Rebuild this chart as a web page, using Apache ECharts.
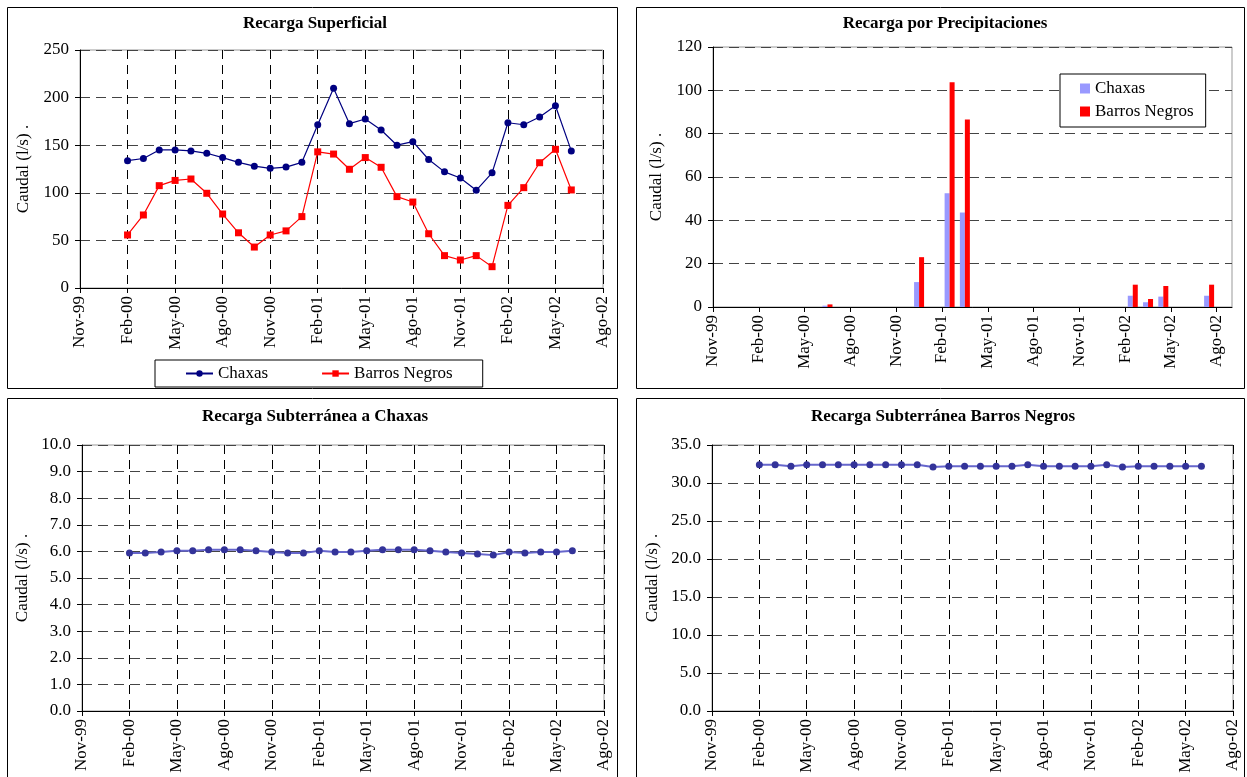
<!DOCTYPE html>
<html><head><meta charset="utf-8">
<script src="https://cdn.jsdelivr.net/npm/echarts@6/dist/echarts.min.js"></script>
<style>html,body{margin:0;padding:0;background:#fff}#c{width:1247px;height:777px}</style>
</head><body><div id="c"></div>
<script>
// ---- tick labels (every 3 months from Nov-99) ----
const tickLabels = ['Nov-99','Feb-00','May-00','Ago-00','Nov-00','Feb-01','May-01','Ago-01','Nov-01','Feb-02','May-02','Ago-02'];

// ---- monthly samples (line panels) ----
const months = ['2000-02','2000-03','2000-04','2000-05','2000-06','2000-07','2000-08','2000-09','2000-10','2000-11','2000-12',
  '2001-01','2001-02','2001-03','2001-04','2001-05','2001-06','2001-07','2001-08','2001-09','2001-10','2001-11','2001-12',
  '2002-01','2002-02','2002-03','2002-04','2002-05','2002-06'];
const supChaxas = [133.7,136,145,145,144,141.5,137,132,128,125.7,127,132,171.5,209.8,172.6,177.5,166,150,153.7,135,122,115.5,102.6,121,173.6,171.5,179.6,191.5,144];
const supBarros = [55.7,76.7,107.5,113,114.5,99.5,77.7,58,43,55.7,60,75,143,140.7,124.7,137,126.8,96,90.3,57,34,29.4,34,22.4,86.8,105.4,131.6,145.7,103];
const subChaxas = [5.94,5.94,5.98,6.02,6.02,6.06,6.06,6.06,6.02,5.98,5.94,5.94,6.02,5.98,5.98,6.02,6.06,6.06,6.06,6.02,5.98,5.94,5.90,5.86,5.98,5.94,5.98,5.98,6.02];
const subBarros = [32.4,32.4,32.2,32.4,32.4,32.4,32.4,32.4,32.4,32.4,32.4,32.1,32.2,32.2,32.2,32.2,32.2,32.4,32.2,32.2,32.2,32.2,32.4,32.1,32.2,32.2,32.2,32.2,32.2];

// ---- monthly precipitation recharge (bars) ----
const barMonths = ['2000-02','2000-03','2000-04','2000-05','2000-06','2000-07','2000-08','2000-09','2000-10','2000-11','2000-12',
  '2001-01','2001-02','2001-03','2001-04','2001-05','2001-06','2001-07','2001-08','2001-09','2001-10','2001-11','2001-12',
  '2002-01','2002-02','2002-03','2002-04','2002-05','2002-06','2002-07'];
const precChaxas = [0,0,0,0,0.6,0,0,0,0,0,11.5,0,52.5,43.6,0,0,0,0,0,0,0,0,0,0,5.2,2.2,4.8,0,0,5.2];
const precBarros = [0,0,0,0,1.2,0,0,0,0,0,23.0,0,103.7,86.5,0,0,0,0,0,0,0,0,0,0,10.3,3.7,9.7,0,0,10.3];

const FONT = 'Liberation Serif';
function mIdx(s){ const p = s.split('-').map(Number); return (p[0]-1999)*12 + (p[1]-11); }
const linePts = vals => months.map((m,i)=>[mIdx(m), vals[i]]);
const barPts = vals => barMonths.map((m,i)=>[mIdx(m)+0.5, vals[i]]);
const tickVals = tickLabels.map((_,i)=>i*3);

function xAxis(gi, max, split){
  return {type:'value', gridIndex:gi, min:0, max:max, interval:3,
    axisLine:{show:true, onZero:false, lineStyle:{color:'#000', width:1}},
    axisTick:{show:true, length:5, customValues:tickVals, lineStyle:{color:'#000'}},
    axisLabel:{rotate:90, fontFamily:FONT, fontSize:17, color:'#000', margin:8, customValues:tickVals,
      formatter:v=>tickLabels[Math.round(v/3)] || ''},
    splitLine:{show:split, lineStyle:{color:'#000', type:[9,6], width:1}}};
}
function yAxis(gi, max, interval, dec){
  return {type:'value', gridIndex:gi, min:0, max:max, interval:interval,
    name:'Caudal (l/s) .', nameLocation:'middle', nameGap:dec?51:48,
    nameTextStyle:{fontFamily:FONT, fontSize:17, color:'#000'},
    axisLine:{show:true, lineStyle:{color:'#000', width:1}},
    axisTick:{show:true, length:5, lineStyle:{color:'#000'}},
    axisLabel:{fontFamily:FONT, fontSize:17, color:'#000', margin:11,
      formatter:v=>dec ? v.toFixed(1) : String(v)},
    splitLine:{show:true, lineStyle:{color:'#444', type:[10,6], width:1}}};
}
const titleStyle = {fontFamily:FONT, fontSize:17, fontWeight:'bold', color:'#000'};
const gridBase = {show:true, borderColor:'#999', borderWidth:1, backgroundColor:'transparent', containLabel:false};

const chart = echarts.init(document.getElementById('c'), null, {renderer:'canvas'});
chart.setOption({
  animation:false,
  backgroundColor:'#fff',
  title:[
    {text:'Recarga Superficial', left:315, top:15, textAlign:'center', textStyle:titleStyle, padding:0},
    {text:'Recarga por Precipitaciones', left:945, top:15, textAlign:'center', textStyle:titleStyle, padding:0},
    {text:'Recarga Subterránea a Chaxas', left:315, top:408, textAlign:'center', textStyle:titleStyle, padding:0},
    {text:'Recarga Subterránea Barros Negros', left:943, top:408, textAlign:'center', textStyle:titleStyle, padding:0}
  ],
  graphic:[
    {type:'rect', shape:{x:7.5, y:7.5, width:610, height:381}, style:{fill:'none', stroke:'#000', lineWidth:1}},
    {type:'rect', shape:{x:636.5, y:7.5, width:608, height:381}, style:{fill:'none', stroke:'#000', lineWidth:1}},
    {type:'rect', shape:{x:7.5, y:398.5, width:610, height:400}, style:{fill:'none', stroke:'#000', lineWidth:1}},
    {type:'rect', shape:{x:636.5, y:398.5, width:608, height:400}, style:{fill:'none', stroke:'#000', lineWidth:1}}
  ],
  legend:[
    {data:['Chaxas','Barros Negros'], left:155, top:360, orient:'horizontal',
      itemWidth:27, itemHeight:8, itemGap:53, padding:[5,30,5,30],
      borderColor:'#000', borderWidth:1, backgroundColor:'#fff',
      textStyle:{fontFamily:FONT, fontSize:17, color:'#000'}},
    {data:['P-Chaxas','P-Barros Negros'], left:1060, top:74, orient:'vertical',
      icon:'rect', itemWidth:10, itemHeight:10, itemGap:6, padding:[6,12,7,20],
      borderColor:'#000', borderWidth:1, backgroundColor:'#fff',
      formatter:n=>n.replace('P-',''),
      textStyle:{fontFamily:FONT, fontSize:17, color:'#000'}}
  ],
  grid:[
    Object.assign({left:80, top:50, width:523, height:238}, gridBase),
    Object.assign({left:713, top:47, width:519, height:260}, gridBase),
    Object.assign({left:82, top:445, width:522, height:266}, gridBase),
    Object.assign({left:712, top:445, width:521, height:266}, gridBase)
  ],
  xAxis:[xAxis(0,33,true), xAxis(1,34,false), xAxis(2,33,true), xAxis(3,33,true)],
  yAxis:[yAxis(0,250,50,false), yAxis(1,120,20,false), yAxis(2,10,1,true), yAxis(3,35,5,true)],
  series:[
    {name:'Chaxas', type:'line', xAxisIndex:0, yAxisIndex:0, data:linePts(supChaxas),
      symbol:'circle', symbolSize:7, showSymbol:true, color:'#000080',
      lineStyle:{color:'#000080', width:1.2}, itemStyle:{color:'#000080'}},
    {name:'Barros Negros', type:'line', xAxisIndex:0, yAxisIndex:0, data:linePts(supBarros),
      symbol:'rect', symbolSize:7, showSymbol:true, color:'#ff0000',
      lineStyle:{color:'#ff0000', width:1.2}, itemStyle:{color:'#ff0000'}},
    {name:'P-Chaxas', type:'bar', xAxisIndex:1, yAxisIndex:1, data:barPts(precChaxas),
      barWidth:5, barGap:'0%', color:'#9999ff', itemStyle:{color:'#9999ff'}},
    {name:'P-Barros Negros', type:'bar', xAxisIndex:1, yAxisIndex:1, data:barPts(precBarros),
      barWidth:5, barGap:'0%', color:'#ff0000', itemStyle:{color:'#ff0000'}},
    {name:'Sub Chaxas', type:'line', xAxisIndex:2, yAxisIndex:2, data:linePts(subChaxas),
      symbol:'circle', symbolSize:7, color:'#333399',
      lineStyle:{color:'#6666cc', width:2}, itemStyle:{color:'#333399'}},
    {name:'Sub Barros Negros', type:'line', xAxisIndex:3, yAxisIndex:3, data:linePts(subBarros),
      symbol:'circle', symbolSize:7, color:'#333399',
      lineStyle:{color:'#6666cc', width:2}, itemStyle:{color:'#333399'}}
  ]
});
</script></body></html>
